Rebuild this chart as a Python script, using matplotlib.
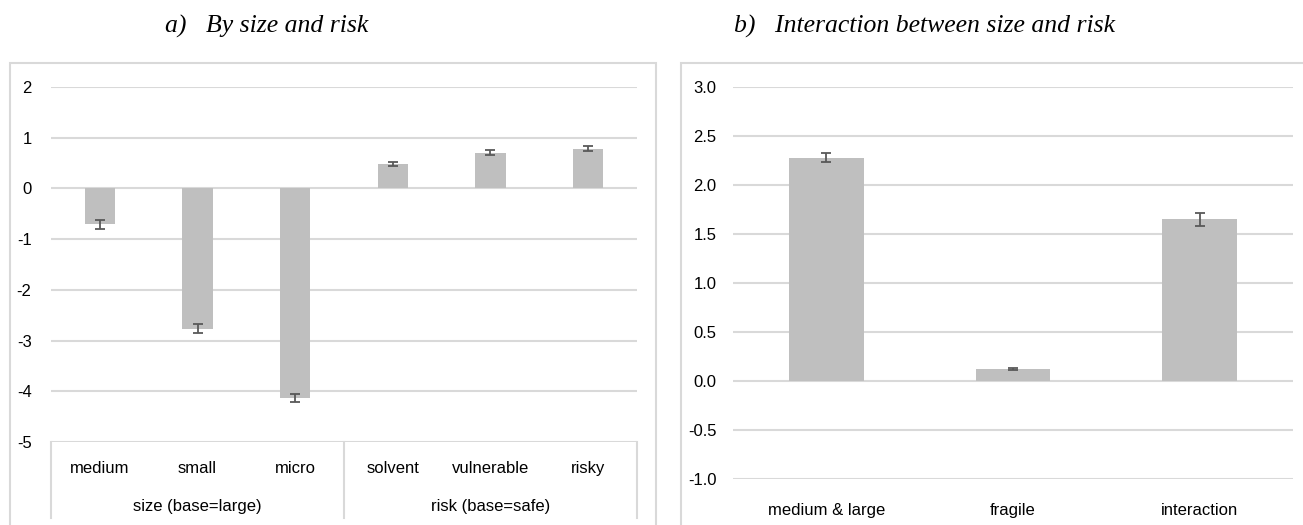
import matplotlib.pyplot as plt
from matplotlib.patches import Rectangle
import matplotlib.transforms as mtransforms

plt.rcParams['font.family'] = ['Liberation Sans', 'DejaVu Sans']
plt.rcParams['axes.unicode_minus'] = False

# panel a: coefficients by size and by risk class
cats_a = ['medium', 'small', 'micro', 'solvent', 'vulnerable', 'risky']
vals_a = [-0.71, -2.77, -4.14, 0.49, 0.70, 0.78]
errs_a = [0.09, 0.09, 0.08, 0.04, 0.05, 0.05]
groups_a = ['size (base=large)', 'risk (base=safe)']

# panel b: interaction model
cats_b = ['medium & large', 'fragile', 'interaction']
vals_b = [2.28, 0.12, 1.65]
errs_b = [0.045, 0.01, 0.065]

bar_col = '#bfbfbf'
grid_col = '#d9d9d9'
err_col = '#595959'

fig = plt.figure(figsize=(13.03, 5.25), dpi=100)

# chart-area frames
fig.patches.append(Rectangle((10 / 1303, -0.05), 646 / 1303, 1 - 63 / 525 + 0.05,
                             transform=fig.transFigure, fill=False,
                             edgecolor=grid_col, linewidth=1.5))
fig.patches.append(Rectangle((681 / 1303, -0.05), 640 / 1303, 1 - 63 / 525 + 0.05,
                             transform=fig.transFigure, fill=False,
                             edgecolor=grid_col, linewidth=1.5))

title_font = dict(family=['Liberation Serif', 'DejaVu Serif'], style='italic', fontsize=18.5)
fig.text(267 / 1303, 1 - 33 / 525, 'a)   By size and risk', ha='center', va='baseline', **title_font)
fig.text(925 / 1303, 1 - 33 / 525, 'b)   Interaction between size and risk', ha='center', va='baseline', **title_font)


def style_axes(ax):
    for s in ax.spines.values():
        s.set_visible(False)
    ax.yaxis.grid(True, color=grid_col, linewidth=1.5)
    ax.set_axisbelow(True)
    ax.tick_params(length=0, labelsize=12)


# --- panel a ---
ax1 = fig.add_axes([51 / 1303, 1 - 442 / 525, 586 / 1303, 355 / 525])
style_axes(ax1)
xa = range(len(cats_a))
ax1.bar(xa, vals_a, width=0.31, color=bar_col, zorder=2)
ax1.errorbar(xa, vals_a, yerr=errs_a, fmt='none', ecolor=err_col,
             elinewidth=1.3, capsize=3.5, capthick=1.3, zorder=3)
ax1.set_xlim(-0.5, 5.5)
ax1.set_ylim(-5, 2)
ax1.set_yticks(range(-5, 3))
ax1.tick_params(axis='y', pad=14)
ax1.set_xticks(list(xa))
ax1.set_xticklabels(cats_a)
ax1.tick_params(axis='x', pad=14)

# two-level category box under panel a
trans = mtransforms.blended_transform_factory(ax1.transData, ax1.transAxes)
box_bottom = (442 - 518) / 355
for xv in (-0.5, 2.5, 5.5):
    ax1.plot([xv, xv], [0, box_bottom], color=grid_col, linewidth=1.5,
             transform=trans, clip_on=False)
for i, g in enumerate(groups_a):
    ax1.text(1 + 3 * i, (442 - 507) / 355, g, transform=trans,
             ha='center', va='center', fontsize=12)

# --- panel b ---
ax2 = fig.add_axes([733 / 1303, 1 - 479 / 525, 560 / 1303, 392 / 525])
style_axes(ax2)
xb = range(len(cats_b))
ax2.bar(xb, vals_b, width=0.4, color=bar_col, zorder=2)
ax2.errorbar(xb, vals_b, yerr=errs_b, fmt='none', ecolor=err_col,
             elinewidth=1.3, capsize=3.5, capthick=1.3, zorder=3)
ax2.set_xlim(-0.5, 2.5)
ax2.set_ylim(-1, 3)
ax2.set_yticks([-1.0, -0.5, 0.0, 0.5, 1.0, 1.5, 2.0, 2.5, 3.0])
ax2.yaxis.set_major_formatter(plt.FormatStrFormatter('%.1f'))
ax2.tick_params(axis='y', pad=12)
ax2.set_xticks(list(xb))
ax2.set_xticklabels(cats_b)
ax2.tick_params(axis='x', pad=17)

fig.savefig('out.png', dpi=100)
